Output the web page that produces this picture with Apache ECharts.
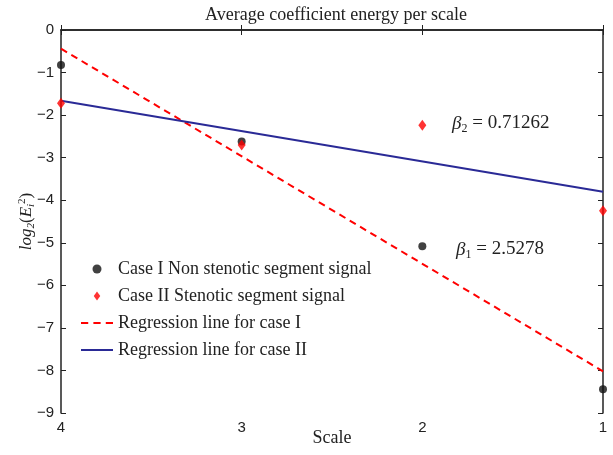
<!DOCTYPE html>
<html>
<head>
<meta charset="utf-8">
<script src="https://cdn.jsdelivr.net/npm/echarts@6/dist/echarts.min.js"></script>
<style>
  html, body { margin: 0; padding: 0; background: #fff; }
  #chart { width: 613px; height: 455px; }
</style>
</head>
<body>
<div id="chart"></div>
<script>
// scales on the x axis (shown reversed, 4 -> 1)
const scales = [4, 3, 2, 1]
// average coefficient energy, log2
const caseI = [-0.82, -2.62, -5.08, -8.44]
const caseII = [-1.72, -2.70, -2.24, -4.25]
// regression lines, end points
const regX = [4, 1]
const regI = [-0.44, -8.02]
const regII = [-1.66, -3.80]

const serif = 'Liberation Serif'
const sans = 'Liberation Sans'
const ink = '#222'
const minus = v => String(v).replace('-', '\u2212')

const chart = echarts.init(document.getElementById('chart'))

const axisCommon = {
  type: 'value',
  axisLine: { show: true, lineStyle: { color: ink, width: 1.5 } },
  axisTick: { show: true, inside: true, length: 5, lineStyle: { color: ink, width: 1 } },
  splitLine: { show: false }
}

// rich styles for the math-like annotations
const mathRich = {
  b: { fontFamily: serif, fontStyle: 'italic', fontSize: 19, fill: ink },
  s: { fontFamily: serif, fontSize: 12, fill: ink, padding: [10, 0, 0, 0] },
  t: { fontFamily: serif, fontSize: 19, fill: ink }
}

const option = {
  animation: false,
  title: {
    text: 'Average coefficient energy per scale',
    left: 331,
    textAlign: 'center',
    top: 1,
    textStyle: { fontFamily: serif, fontWeight: 'normal', fontSize: 18, color: ink }
  },
  grid: { left: 61, right: 10, top: 30, bottom: 42, outerBoundsMode: 'none' },
  legend: {
    orient: 'vertical',
    left: 76,
    top: 255,
    itemWidth: 32,
    itemHeight: 9,
    itemGap: 9,
    textStyle: { fontFamily: serif, fontSize: 18, color: ink },
    data: [
      { name: 'Case I Non stenotic segment signal', icon: 'circle' },
      { name: 'Case II Stenotic segment signal', icon: 'path://M4,0L8,5.5L4,11L0,5.5Z' },
      { name: 'Regression line for case I', icon: 'path://M0,0h7v2h-7z M12,0h7v2h-7z M24,0h7v2h-7z' },
      { name: 'Regression line for case II', icon: 'path://M0,0h32v2h-32z' }
    ]
  },
  xAxis: [
    Object.assign({}, axisCommon, {
      min: 1, max: 4, interval: 1, inverse: true, position: 'bottom',
      name: 'Scale', nameLocation: 'middle', nameGap: 16, nameMoveOverlap: false,
      nameTextStyle: { fontFamily: serif, fontSize: 18, color: ink },
      axisLabel: { fontFamily: sans, fontSize: 15, color: ink, margin: 7 }
    }),
    Object.assign({}, axisCommon, {
      min: 1, max: 4, interval: 1, inverse: true, position: 'top',
      axisLabel: { show: false }
    })
  ],
  yAxis: [
    Object.assign({}, axisCommon, {
      min: -9, max: 0, interval: 1, position: 'left',
      name: '{i|log}{s|2}{n|(}{i|E}{s|i}{p|2}{n|)}', nameLocation: 'middle', nameGap: 24,
      nameMoveOverlap: false,
      nameTextStyle: {
        color: ink,
        rich: {
          i: { fontFamily: serif, fontStyle: 'italic', fontSize: 17, color: ink },
          n: { fontFamily: serif, fontSize: 17, color: ink },
          s: { fontFamily: serif, fontStyle: 'italic', fontSize: 11, color: ink, padding: [9, 0, 0, 0] },
          p: { fontFamily: serif, fontSize: 11, color: ink, padding: [0, 0, 9, 0] }
        }
      },
      axisLabel: { fontFamily: sans, fontSize: 15, color: ink, margin: 7, formatter: minus }
    }),
    Object.assign({}, axisCommon, {
      min: -9, max: 0, interval: 1, position: 'right',
      axisLabel: { show: false }
    })
  ],
  graphic: [
    {
      type: 'text', left: 452, top: 114,
      style: { text: '{b|\u03b2}{s|2}{t| = 0.71262}', rich: mathRich }
    },
    {
      type: 'text', left: 456, top: 240,
      style: { text: '{b|\u03b2}{s|1}{t| = 2.5278}', rich: mathRich }
    }
  ],
  series: [
    {
      name: 'Case I Non stenotic segment signal',
      type: 'scatter',
      symbol: 'circle',
      symbolSize: 8,
      itemStyle: { color: '#111' },
      z: 5,
      data: scales.map((s, i) => [s, caseI[i]])
    },
    {
      name: 'Case II Stenotic segment signal',
      type: 'scatter',
      symbol: 'diamond',
      symbolSize: [8, 11],
      itemStyle: { color: '#ff0000' },
      z: 5,
      data: scales.map((s, i) => [s, caseII[i]])
    },
    {
      name: 'Regression line for case I',
      type: 'line',
      symbol: 'none',
      itemStyle: { color: '#ff0000' },
      lineStyle: { color: '#ff0000', width: 2, type: [7, 5] },
      data: regX.map((s, i) => [s, regI[i]])
    },
    {
      name: 'Regression line for case II',
      type: 'line',
      symbol: 'none',
      itemStyle: { color: '#2a2a96' },
      lineStyle: { color: '#2a2a96', width: 2 },
      data: regX.map((s, i) => [s, regII[i]])
    }
  ]
}

chart.setOption(option)
</script>
</body>
</html>
